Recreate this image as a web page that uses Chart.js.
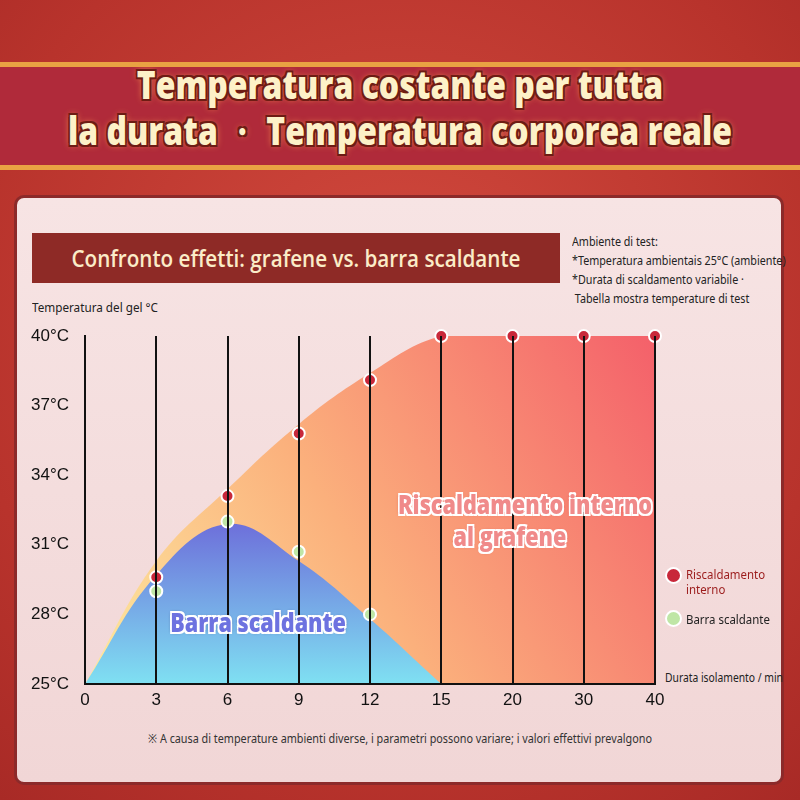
<!DOCTYPE html>
<html><head><meta charset="utf-8">
<script src="https://cdn.jsdelivr.net/npm/chart.js"></script>
<style>
body{margin:0;width:800px;height:800px;overflow:hidden;font-family:"Noto Sans",sans-serif;}
div{white-space:nowrap;}
#bg{position:absolute;left:0;top:0;width:800px;height:800px;background:radial-gradient(circle at 50% 40%,#d24a3e,#b8332c 70%,#a82a26);}
#band{position:absolute;left:0;top:62px;width:800px;height:98px;background:#b02a3a;border-top:5px solid #e9a243;border-bottom:5px solid #e9a243;}
.title{position:absolute;left:0;width:800px;text-align:center;font-family:"Open Sans",sans-serif;font-weight:800;font-size:38px;color:#fdf1c8;
 text-shadow:-2px -2px 0 #6e1c14,2px -2px 0 #6e1c14,-2px 2px 0 #6e1c14,2px 2px 0 #6e1c14,0 0 8px #ff9a50;transform:scaleX(0.84);}
#panel{position:absolute;left:14px;top:195px;width:770px;height:590px;background:linear-gradient(#f7e4e4,#f1d6d6);border-radius:10px;border:3px solid #8c2a2a;box-sizing:border-box;}
#sub{position:absolute;left:32px;top:233px;width:528px;height:50px;background:#8e2a26;}
#subt{position:absolute;left:32px;top:233px;width:528px;color:#fbecc8;font-size:24px;font-weight:600;line-height:50px;text-align:center;font-family:"Open Sans",sans-serif;transform:scaleX(0.86);}
#note{position:absolute;left:572px;top:232px;font-size:12.5px;line-height:19px;color:#222;transform:scaleX(0.86);transform-origin:left;}
#ylab{position:absolute;left:32px;top:298px;font-size:13px;color:#222;transform:scaleX(0.9);transform-origin:left;}
#xlab{position:absolute;left:665px;top:669px;font-size:12px;color:#222;transform:scaleX(0.86);transform-origin:left;}
#foot{position:absolute;left:0;width:800px;top:730px;text-align:center;font-size:12px;color:#333;transform:scaleX(0.9);}
.big{position:absolute;font-family:"Open Sans",sans-serif;font-weight:800;text-align:center;font-size:27px;line-height:32px;transform:scaleX(0.8);}
#lr{left:370px;top:488px;width:280px;color:#f08a8a;text-shadow:-2px -2px 0 #fff,2px -2px 0 #fff,-2px 2px 0 #fff,2px 2px 0 #fff,0 0 4px #c44;}
#lb{left:148px;top:606px;width:220px;color:#6d72e0;text-shadow:-2px -2px 0 #fff,2px -2px 0 #fff,-2px 2px 0 #fff,2px 2px 0 #fff,0 0 4px #336;}
.leg{position:absolute;font-size:13px;line-height:15px;transform:scaleX(0.88);transform-origin:left;}
.dot{position:absolute;width:13px;height:13px;border-radius:50%;border:2px solid #fff;}
canvas{position:absolute;left:0;top:0;}
</style></head><body>
<div id="bg"></div><div id="band"></div>
<div class="title" style="top:58px">Temperatura costante per tutta</div>
<div class="title" style="top:104px">la durata ・ Temperatura corporea reale</div>
<div id="panel"></div>
<div id="sub"></div><div id="subt">Confronto effetti: grafene vs. barra scaldante</div>
<div id="note">Ambiente di test:<br>*Temperatura ambientais 25°C (ambiente)<br>*Durata di scaldamento variabile ·<br>&nbsp;Tabella mostra temperature di test</div>
<div id="ylab">Temperatura del gel °C</div>
<div id="xlab">Durata isolamento / min</div>
<div id="foot">※ A causa di temperature ambienti diverse, i parametri possono variare; i valori effettivi prevalgono</div>
<canvas id="c" width="800" height="800"></canvas>
<div class="big" id="lr">Riscaldamento interno<br>al grafene</div>
<div class="big" id="lb">Barra scaldante</div>
<div class="dot" style="left:665px;top:567px;background:#c8283a"></div>
<div class="leg" style="left:686px;top:567px;color:#9c1c1c">Riscaldamento<br>interno</div>
<div class="dot" style="left:665px;top:610px;background:#bfe6a6"></div>
<div class="leg" style="left:686px;top:612px;color:#222">Barra scaldante</div>
<script>
const categories=['0','3','6','9','12','15','20','30','40'];
const grapheneCurve=[25,30.3,33.4,36.2,38.4,40,40,40,40];
const barCurve=[25,29.7,31.9,30.3,27.8,25,null,null,null];
const graphenePoints=[null,29.6,33.1,35.8,38.1,40,40,40,40];
const barPoints=[null,29.0,32.0,30.7,28.0,null,null,null,null];
const yTicks=[25,28,31,34,37,40];

function grad(ctx,stops,dir){
  const c=ctx.chart,a=c.chartArea;if(!a)return stops[0][1];
  const g=dir==='d'?c.ctx.createLinearGradient(a.left,a.bottom,a.right,a.top):c.ctx.createLinearGradient(0,a.top,0,a.bottom);
  stops.forEach(s=>g.addColorStop(s[0],s[1]));return g;
}
new Chart(document.getElementById('c'),{
 type:'line',
 data:{labels:categories,datasets:[
  {data:barPoints,showLine:false,clip:false,pointRadius:6,pointBackgroundColor:'#bfe6a6',pointBorderColor:'#fff',pointBorderWidth:2,order:0},
  {data:graphenePoints,showLine:false,clip:false,pointRadius:6,pointBackgroundColor:'#c8283a',pointBorderColor:'#fff',pointBorderWidth:2,order:0},
  {data:barCurve,fill:'start',tension:0.4,borderWidth:0,pointRadius:0,order:1,
   backgroundColor:c=>grad(c,[[0.45,'#6a5ad6'],[1,'#7fe0f2']])},
  {data:grapheneCurve,fill:'start',tension:0.4,borderWidth:0,pointRadius:0,order:2,
   backgroundColor:c=>grad(c,[[0,'#fdeaa0'],[0.45,'#fbb07c'],[1,'#f4606a']],'d')}
 ]},
 options:{animation:false,responsive:false,
  layout:{padding:{top:336,right:145,left:0,bottom:0}},
  plugins:{legend:{display:false},tooltip:{enabled:false}},
  scales:{
   x:{offset:false,grid:{color:'#111',lineWidth:2,z:1,drawTicks:false},border:{color:'#111',width:2,z:1},
      ticks:{color:'#111',font:{size:17},padding:6},
      afterFit:s=>{s.height=116;}},
   y:{min:25,max:40,afterBuildTicks:s=>{s.ticks=yTicks.map(v=>({value:v}));},
      grid:{display:false},border:{color:'#111',width:2,z:1},
      ticks:{color:'#111',font:{size:17},padding:8,callback:v=>v+'°C'},
      afterFit:s=>{s.width=85;}}
  }}
});
</script></body></html>
